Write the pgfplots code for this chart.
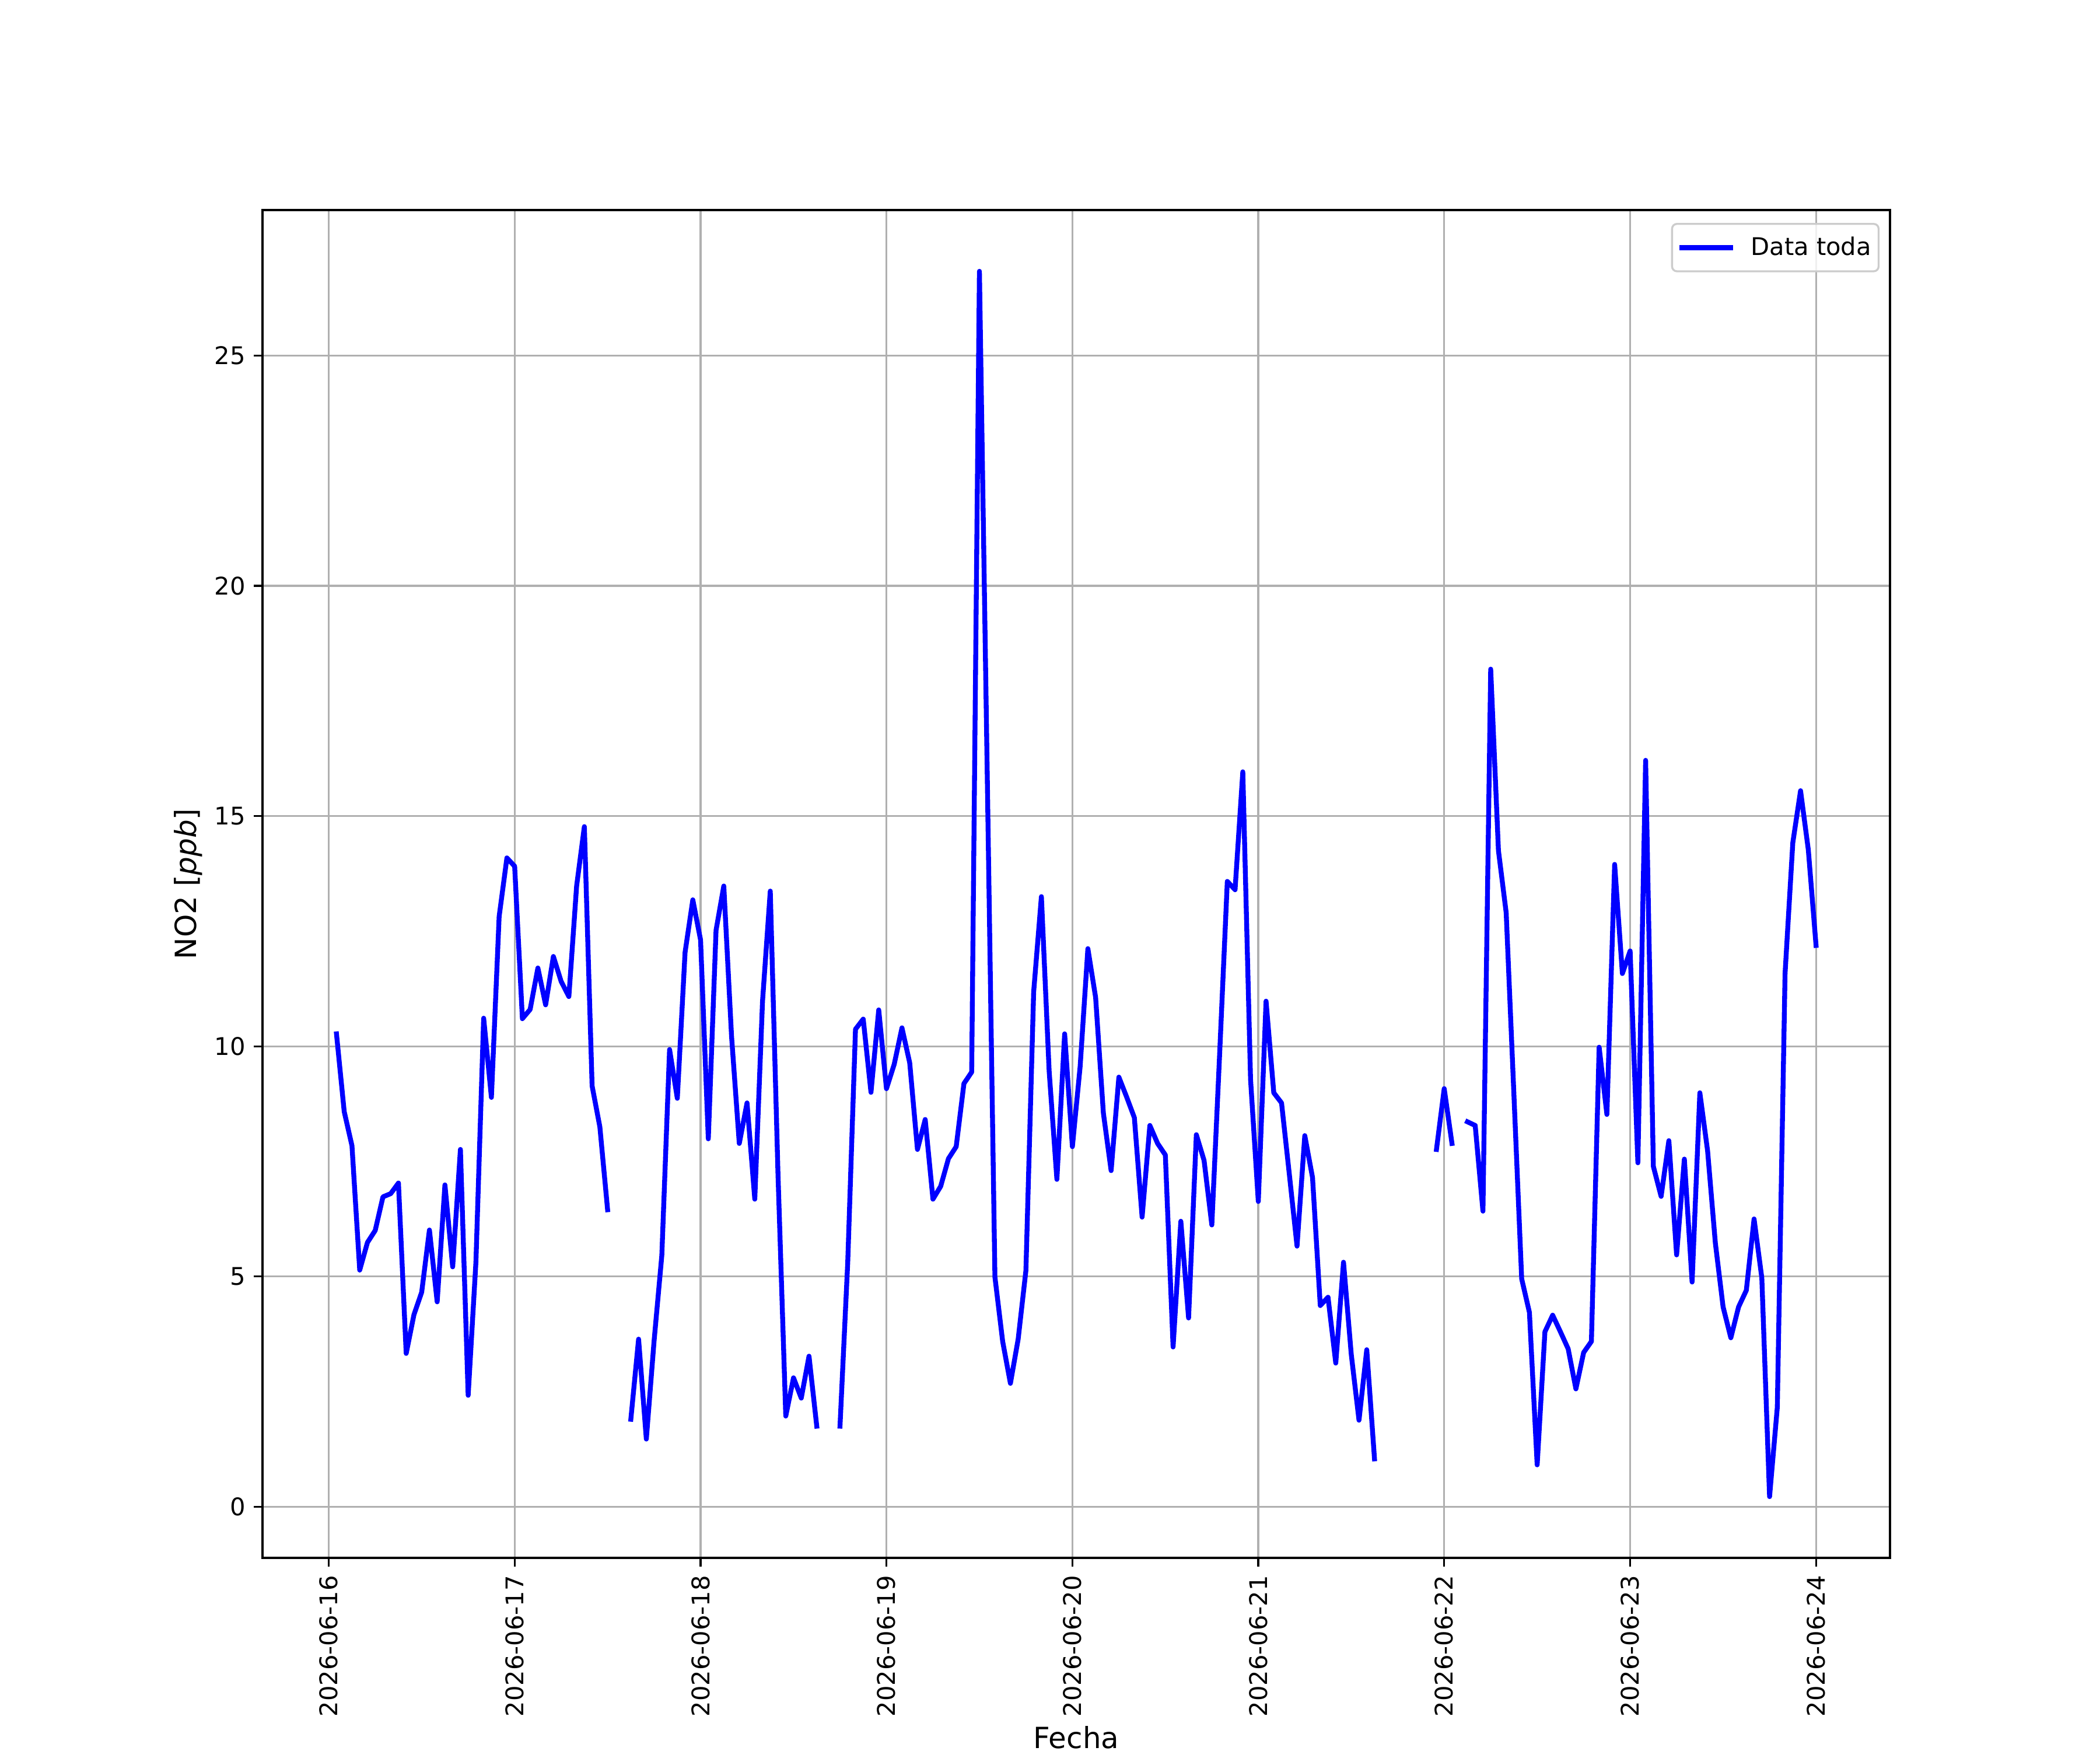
\documentclass[border=0pt]{standalone}
\usepackage{fontspec}
\setmainfont{DejaVu Sans}
\usepackage{pgfplots}
\pgfplotsset{compat=1.18}
\usepackage{pgfplotstable}
\definecolor{gridgray}{HTML}{B0B0B0}
\definecolor{legframe}{HTML}{CCCCCC}

\pgfplotstableread{
h v
1 10.27
2 8.58
3 7.84
4 5.14
5 5.74
6 6.00
7 6.73
8 6.80
9 7.03
10 3.33
11 4.17
12 4.66
13 6.01
14 4.45
15 6.99
16 5.21
17 7.76
18 2.42
19 5.31
20 10.61
21 8.89
22 12.82
23 14.09
24 13.91
25 10.60
26 10.80
27 11.70
28 10.90
29 11.95
30 11.41
31 11.08
32 13.48
33 14.77
34 9.14
35 8.25
36 6.45
37 nan
38 nan
39 1.90
40 3.64
41 1.47
42 3.60
43 5.46
44 9.93
45 8.87
46 12.04
47 13.18
48 12.31
49 7.99
50 12.52
51 13.48
52 10.22
53 7.89
54 8.77
55 6.68
56 10.98
57 13.37
58 7.20
59 1.97
60 2.80
61 2.36
62 3.27
63 1.75
64 nan
65 nan
66 1.75
67 5.31
68 10.37
69 10.59
70 9.00
71 10.79
72 9.08
73 9.61
74 10.40
75 9.64
76 7.76
77 8.41
78 6.68
79 6.96
80 7.56
81 7.82
82 9.19
83 9.44
84 26.83
85 16.00
86 4.99
87 3.59
88 2.68
89 3.64
90 5.13
91 11.18
92 13.25
93 9.46
94 7.11
95 10.27
96 7.82
97 9.56
98 12.12
99 11.06
100 8.55
101 7.30
102 9.33
103 8.90
104 8.45
105 6.29
106 8.28
107 7.89
108 7.64
109 3.47
110 6.20
111 4.10
112 8.08
113 7.52
114 6.12
115 9.80
116 13.58
117 13.40
118 15.96
119 9.28
120 6.63
121 10.98
122 8.99
123 8.77
124 7.23
125 5.66
126 8.06
127 7.15
128 4.37
129 4.55
130 3.12
131 5.31
132 3.31
133 1.88
134 3.41
135 1.04
136 nan
137 nan
138 nan
139 nan
140 nan
141 nan
142 nan
143 7.76
144 9.08
145 7.89
146 nan
147 8.36
148 8.28
149 6.42
150 18.19
151 14.25
152 12.90
153 8.94
154 4.95
155 4.22
156 0.91
157 3.80
158 4.16
159 3.80
160 3.43
161 2.56
162 3.35
163 3.59
164 9.98
165 8.52
166 13.95
167 11.58
168 12.07
169 7.47
170 16.21
171 7.39
172 6.74
173 7.95
174 5.47
175 7.55
176 4.88
177 8.99
178 7.73
179 5.73
180 4.34
181 3.67
182 4.34
183 4.70
184 6.25
185 4.97
186 0.22
187 2.16
188 11.58
189 14.42
190 15.55
191 14.27
192 12.19
}\datatable

\begin{document}
\begin{tikzpicture}
\path[use as bounding box] (-108pt,-79.2pt) rectangle (756pt,640.8pt);
\begin{axis}[
  at={(0,0)}, anchor=south west,
  scale only axis, width=669.6pt, height=554.4pt,
  xmin=-8.55, xmax=201.55, ymin=-1.11, ymax=28.16,
  xtick={0,24,48,72,96,120,144,168,192},
  xticklabels={2026-06-16,2026-06-17,2026-06-18,2026-06-19,2026-06-20,2026-06-21,2026-06-22,2026-06-23,2026-06-24},
  ytick={0,5,10,15,20,25},
  grid=major,
  major grid style={gridgray, line width=0.8pt},
  axis line style={black, line width=0.8pt},
  tick style={black, line width=0.8pt},
  tick align=outside, major tick length=3.5pt,
  xtick pos=bottom, ytick pos=left,
  tick label style={font=\fontsize{10}{12}\selectfont},
  /pgf/number format/assume math mode=true,
  xticklabel style={rotate=90, anchor=east, inner sep=0pt},
  yticklabel style={anchor=east, inner sep=0pt},
  xticklabel shift=3.5pt,
  yticklabel shift=3.3pt,
  xlabel={Fecha}, ylabel={NO2 [\textit{ppb}]},
  xlabel style={at={(axis description cs:0.5,-0.1415)}, anchor=base, inner sep=0pt, font=\fontsize{12}{14}\selectfont},
  ylabel style={at={(axis description cs:-0.0367,0.5)}, anchor=south, inner sep=0pt, font=\fontsize{12}{14}\selectfont},
  unbounded coords=jump,
  legend cell align=left,
  legend image code/.code={\draw[#1, line cap=rect] (0pt,0pt) -- (20pt,0pt);},
  legend style={at={(1,1)}, anchor=north east, xshift=-4.3pt, yshift=-5.3pt,
    draw=legframe, line width=0.8pt, rounded corners=2pt,
    fill=white, fill opacity=0.8, text opacity=1, draw opacity=1,
    font=\fontsize{10}{12}\selectfont,
    inner xsep=3pt, inner ysep=5.2pt,
    nodes={inner sep=0pt, text opacity=1},
    column sep=7.4pt},
]
\addplot[color=blue, line width=2pt, line join=round, line cap=rect] table[x=h, y=v] {\datatable};
\addlegendentry{Data toda}
\end{axis}
\end{tikzpicture}
\end{document}
